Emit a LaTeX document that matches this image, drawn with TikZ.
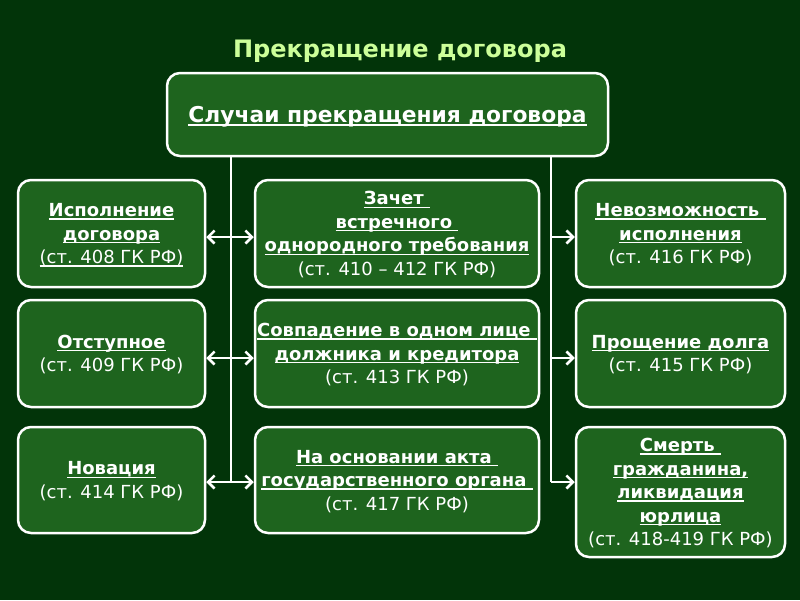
\documentclass[tikz,border=0pt]{standalone}
\usepackage{fontspec}
\setmainfont{DejaVu Sans}
\usetikzlibrary{arrows.meta}
\definecolor{bg}{RGB}{2,52,9}
\definecolor{boxfill}{RGB}{30,100,30}
\definecolor{ttl}{RGB}{204,255,153}
\newcommand\myul[1]{\setbox0=\hbox{#1}\rlap{\rule[-3pt]{\wd0}{1.2pt}}\box0}
\newcommand\bul[1]{\myul{\bfseries #1}}
\tikzset{
  box/.style={draw=white, line width=2.5pt, fill=boxfill, rounded corners=13pt,
    text=white, align=center, inner sep=0pt,
    font=\fontsize{18}{23.5}\selectfont, text depth=-1.5pt},
  arr/.style={draw=white, line width=2.5pt,
    -{Straight Barb[length=6.5pt,width=13pt,line width=2.5pt]}},
  vline/.style={draw=white, line width=2.5pt},
}
\begin{document}
\begin{tikzpicture}[x=1pt,y=-1pt]
\fill[bg] (0,0) rectangle (800,600);
\useasboundingbox (0,0) rectangle (800,600);

% title
\node[text=ttl, font=\fontsize{24}{28}\selectfont\bfseries] (title) at (400,51) {Прекращение договора};

% top box
\node[box, minimum width=441pt, minimum height=83pt, font=\fontsize{21.8}{26}\selectfont] (T) at (387.5,114.5) {\bul{Случаи прекращения  договора}};

% left column
\node[box, minimum width=187pt, minimum height=107pt] (L1) at (111.5,233.5)
  {\bul{Исполнение}\\ \bul{договора}\\ \myul{(ст. 408 ГК РФ)}};
\node[box, minimum width=187pt, minimum height=107pt] (L2) at (111.5,353.5)
  {\bul{Отступное}\\ (ст. 409 ГК РФ)};
\node[box, minimum width=187pt, minimum height=106pt] (L3) at (111.5,480)
  {\bul{Новация}\\ (ст. 414 ГК РФ)};

% middle column
\node[box, minimum width=284pt, minimum height=107pt] (M1) at (397,233.5)
  {\bul{Зачет }\\ \bul{встречного }\\ \bul{однородного требования}\\ (ст. 410 – 412 ГК РФ)};
\node[box, minimum width=284pt, minimum height=107pt] (M2) at (397,353.5)
  {\bul{Совпадение в одном лице }\\ \bul{должника и кредитора}\\ (ст. 413 ГК РФ)};
\node[box, minimum width=284pt, minimum height=106pt] (M3) at (397,480)
  {\bul{На основании акта }\\ \bul{государственного органа }\\ (ст. 417 ГК РФ)};

% right column
\node[box, minimum width=209pt, minimum height=107pt] (R1) at (680.5,233.5)
  {\bul{Невозможность }\\ \bul{исполнения}\\ (ст. 416 ГК РФ)};
\node[box, minimum width=209pt, minimum height=107pt] (R2) at (680.5,353.5)
  {\bul{Прощение долга}\\ (ст. 415 ГК РФ)};
\node[box, minimum width=209pt, minimum height=130pt] (R3) at (680.5,492)
  {\bul{Смерть }\\ \bul{гражданина,}\\ \bul{ликвидация}\\ \bul{юрлица}\\ (ст. 418-419 ГК РФ)};

% junctions
\coordinate (ja0) at (231,156);
\coordinate (ja1) at (231,237);
\coordinate (ja2) at (231,358);
\coordinate (ja3) at (231,482);
\coordinate (jb0) at (551,156);
\coordinate (jb1) at (551,237);
\coordinate (jb2) at (551,358);
\coordinate (jb3) at (551,482);

\draw[vline] (ja0) -- (ja3);
\draw[vline] (jb0) -- (jb3);

\draw[arr] (ja1) -- (ja1 -| L1.east);
\draw[arr] (ja1) -- (ja1 -| M1.west);
\draw[arr] (ja2) -- (ja2 -| L2.east);
\draw[arr] (ja2) -- (ja2 -| M2.west);
\draw[arr] (ja3) -- (ja3 -| L3.east);
\draw[arr] (ja3) -- (ja3 -| M3.west);
\draw[arr] (jb1) -- (jb1 -| R1.west);
\draw[arr] (jb2) -- (jb2 -| R2.west);
\draw[arr] (jb3) -- (jb3 -| R3.west);
\end{tikzpicture}
\end{document}
